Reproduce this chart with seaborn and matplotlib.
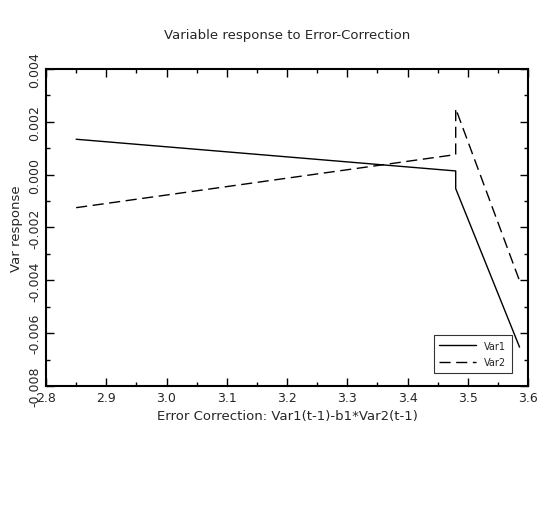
import numpy as np
import pandas as pd
import seaborn as sns
import matplotlib
matplotlib.use("Agg")
import matplotlib.pyplot as plt
from matplotlib.ticker import MultipleLocator, FormatStrFormatter

# Data
ec_values = [2.85, 3.48, 3.48, 3.586]
var1_resp = [0.00134, 0.00014, -0.00053, -0.00653]
var2_resp = [-0.00125, 0.00076, 0.00250, -0.00402]

df = pd.DataFrame({
    "ec": ec_values * 2,
    "resp": var1_resp + var2_resp,
    "series": ["Var1"] * len(ec_values) + ["Var2"] * len(ec_values),
})

sns.set_style("ticks")
plt.rcParams['font.family'] = ['DejaVu Sans']

fig = plt.figure(figsize=(5.53, 5.06), dpi=100)
ax = fig.add_axes([0.0832, 0.2352, 0.8716, 0.6265])

sns.lineplot(data=df, x="ec", y="resp", style="series", color="black",
             dashes={"Var1": "", "Var2": (8, 4)}, linewidth=1.0,
             sort=False, estimator=None, ax=ax)

ax.set_xlim(2.8, 3.6)
ax.set_ylim(-0.008, 0.004)
ax.xaxis.set_major_locator(MultipleLocator(0.1))
ax.xaxis.set_minor_locator(MultipleLocator(0.05))
ax.yaxis.set_major_locator(MultipleLocator(0.002))
ax.yaxis.set_minor_locator(MultipleLocator(0.001))
ax.xaxis.set_major_formatter(FormatStrFormatter('%.1f'))
ax.yaxis.set_major_formatter(FormatStrFormatter('%.3f'))

ax.tick_params(which='both', direction='in', top=True, right=True, color='black')
ax.tick_params(which='major', length=6, width=1, labelsize=9)
ax.tick_params(which='minor', length=3, width=1)
plt.setp(ax.get_yticklabels(), rotation=90, va='center')
for s in ax.spines.values():
    s.set_linewidth(1.5)
    s.set_color('black')

ax.set_title("Variable response to Error-Correction", fontsize=9.5, pad=22)
ax.set_xlabel("Error Correction: Var1(t-1)-b1*Var2(t-1)", fontsize=9.5, labelpad=4)
ax.set_ylabel("Var response", fontsize=9.5, labelpad=4)

leg = ax.legend(loc='lower right', fontsize=7, frameon=True, fancybox=False,
                handlelength=3.8, labelspacing=0.7, borderpad=0.6,
                bbox_to_anchor=(0.967, 0.04), borderaxespad=0, title=None)
leg.get_frame().set_edgecolor('black')
leg.get_frame().set_linewidth(0.8)

fig.savefig("out.png", dpi=100)
